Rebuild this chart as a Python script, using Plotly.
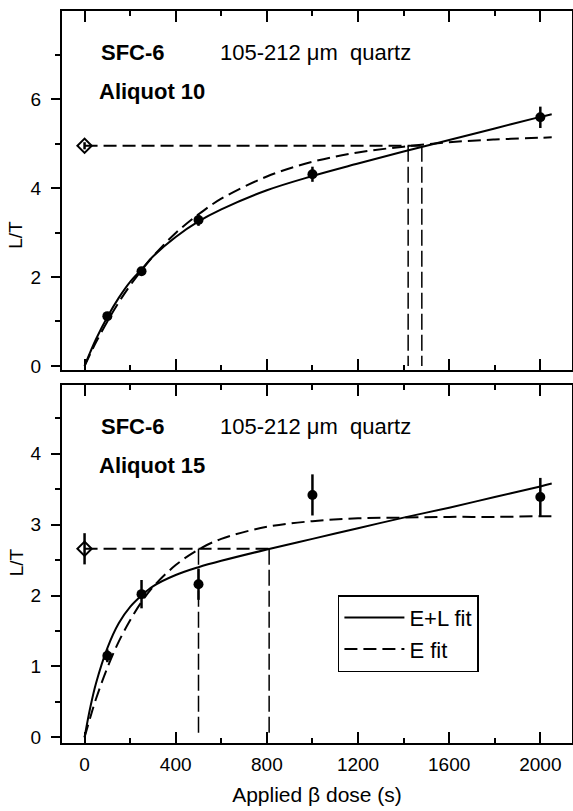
import plotly.graph_objects as go

# ---------------- data ----------------
# Aliquot 10 (top panel)
a10_dose = [100, 250, 500, 1000, 2000]
a10_lt = [1.12, 2.13, 3.28, 4.31, 5.59]
a10_err = [0.05, 0.07, 0.13, 0.17, 0.24]
a10_nat = 4.95
a10_nat_err = 0.08
a10_de = [1420, 1480]          # E fit, E+L fit equivalent doses

a10_curve_x = [0, 25, 50, 100, 150, 200, 250, 300, 400, 500, 600, 800, 1000,
               1200, 1400, 1600, 1800, 2000, 2050]
a10_el_fit = [0.0, 0.31, 0.60, 1.10, 1.53, 1.89, 2.17, 2.46, 2.90, 3.25, 3.52,
              3.95, 4.27, 4.55, 4.82, 5.08, 5.34, 5.60, 5.66]
a10_e_fit = [0.0, 0.27, 0.53, 1.00, 1.43, 1.81, 2.15, 2.46, 2.99, 3.41, 3.76,
             4.26, 4.59, 4.80, 4.93, 5.03, 5.09, 5.13, 5.14]

# Aliquot 15 (bottom panel)
a15_dose = [100, 250, 500, 1000, 2000]
a15_lt = [1.15, 2.02, 2.16, 3.42, 3.39]
a15_err = [0.09, 0.20, 0.22, 0.29, 0.27]
a15_nat = 2.66
a15_nat_err = 0.22
a15_de = [500, 810]

a15_curve_x = [0, 25, 50, 100, 150, 200, 250, 300, 400, 500, 600, 800, 1000,
               1200, 1400, 1600, 1800, 2000, 2050]
a15_el_fit = [0.0, 0.42, 0.76, 1.26, 1.61, 1.84, 2.00, 2.13, 2.29, 2.40, 2.49,
              2.65, 2.80, 2.95, 3.10, 3.24, 3.39, 3.54, 3.58]
a15_e_fit = [0.0, 0.28, 0.54, 0.98, 1.35, 1.65, 1.91, 2.12, 2.43, 2.65, 2.80,
             2.97, 3.05, 3.09, 3.10, 3.11, 3.11, 3.12, 3.12]

x_ticks = [0, 400, 800, 1200, 1600, 2000]
sample_label = "SFC-6"
grain_label = "105-212 \u03bcm  quartz"
aliquot_labels = ["Aliquot 10", "Aliquot 15"]
legend_names = ["E+L fit", "E fit"]

FONT = "Liberation Sans, Arial, sans-serif"
BLACK = "black"

fig = go.Figure()


def add_panel(xa, ya, curve_x, el_fit, e_fit, dose, lt, err, nat, nat_err, de, legend):
    fig.add_trace(go.Scatter(x=curve_x, y=el_fit, mode="lines", name=legend_names[0],
                             line=dict(color=BLACK, width=2, shape="spline"),
                             xaxis=xa, yaxis=ya, showlegend=legend))
    fig.add_trace(go.Scatter(x=curve_x, y=e_fit, mode="lines", name=legend_names[1],
                             line=dict(color=BLACK, width=2, dash="13px,6px", shape="spline"),
                             xaxis=xa, yaxis=ya, showlegend=legend))
    fig.add_trace(go.Scatter(x=[0, max(de)], y=[nat, nat], mode="lines",
                             line=dict(color=BLACK, width=2, dash="13px,6px"),
                             xaxis=xa, yaxis=ya, showlegend=False, hoverinfo="skip"))
    for d in de:
        fig.add_trace(go.Scatter(x=[d, d], y=[nat, 0], mode="lines",
                                 line=dict(color=BLACK, width=1.5, dash="16px,5px"),
                                 xaxis=xa, yaxis=ya, showlegend=False, hoverinfo="skip"))
    fig.add_trace(go.Scatter(x=dose, y=lt, mode="markers",
                             marker=dict(color=BLACK, size=10),
                             error_y=dict(type="data", array=err, color=BLACK,
                                          thickness=2.5, width=0),
                             xaxis=xa, yaxis=ya, showlegend=False))
    fig.add_trace(go.Scatter(x=[0], y=[nat], mode="markers",
                             marker=dict(symbol="diamond-open", color=BLACK, size=11,
                                         line=dict(width=2, color=BLACK)),
                             error_y=dict(type="data", array=[nat_err], color=BLACK,
                                          thickness=2.5, width=0),
                             xaxis=xa, yaxis=ya, showlegend=False))


add_panel("x", "y", a10_curve_x, a10_el_fit, a10_e_fit, a10_dose, a10_lt, a10_err,
          a10_nat, a10_nat_err, a10_de, False)
add_panel("x2", "y2", a15_curve_x, a15_el_fit, a15_e_fit, a15_dose, a15_lt, a15_err,
          a15_nat, a15_nat_err, a15_de, True)

x_range = [-99, 2139]
top_range = [-0.09, 7.98]
bot_range = [-0.08, 4.97]

xcommon = dict(range=x_range, tickvals=x_ticks, ticks="inside", ticklen=11, tickwidth=2,
               tickcolor=BLACK, showline=True, linewidth=2, linecolor=BLACK,
               mirror="ticks", showgrid=False, zeroline=False, automargin=False,
               minor=dict(dtick=200, tick0=0, ticks="inside", ticklen=5, tickwidth=2,
                          tickcolor=BLACK, showgrid=False),
               tickfont=dict(family=FONT, size=19, color=BLACK))
ycommon = dict(ticks="outside", ticklen=9, tickwidth=2, tickcolor=BLACK,
               showline=True, linewidth=2, linecolor=BLACK, mirror=True,
               showgrid=False, zeroline=False, ticklabelstandoff=6, automargin=False,
               tickfont=dict(family=FONT, size=19, color=BLACK))
yright = dict(ticks="inside", ticklen=9, tickwidth=2, tickcolor=BLACK, side="right",
              showline=False, showgrid=False, zeroline=False, showticklabels=False,
              automargin=False)

top_dom = [0.5096, 1.0]
bot_dom = [0.0, 0.489]

fig.update_layout(
    width=573, height=811,
    margin=dict(l=62, r=1, t=11, b=68),
    paper_bgcolor="white", plot_bgcolor="white",
    font=dict(family=FONT, color=BLACK),
    xaxis=dict(anchor="y", domain=[0, 1], showticklabels=False, **xcommon),
    xaxis2=dict(anchor="y2", domain=[0, 1], showticklabels=True, ticklabelstandoff=3,
                title=dict(text="Applied \u03b2 dose (s)", standoff=14,
                           font=dict(family=FONT, size=21, color=BLACK)),
                **xcommon),
    yaxis=dict(anchor="x", domain=top_dom, range=top_range, tick0=0, dtick=2,
               minor=dict(dtick=1, tick0=0, ticks="outside", ticklen=5, tickwidth=2,
                          tickcolor=BLACK, showgrid=False),
               **ycommon),
    yaxis2=dict(anchor="x2", domain=bot_dom, range=bot_range, tick0=0, dtick=1,
                minor=dict(dtick=0.5, tick0=0, ticks="outside", ticklen=5, tickwidth=2,
                           tickcolor=BLACK, showgrid=False),
                **ycommon),
    yaxis3=dict(overlaying="y", anchor="x", range=top_range, tick0=0, dtick=2,
                minor=dict(dtick=1, tick0=0, ticks="inside", ticklen=5, tickwidth=2,
                           tickcolor=BLACK, showgrid=False),
                **yright),
    yaxis4=dict(overlaying="y2", anchor="x2", range=bot_range, tick0=0, dtick=1,
                minor=dict(dtick=0.5, tick0=0, ticks="inside", ticklen=5, tickwidth=2,
                           tickcolor=BLACK, showgrid=False),
                **yright),
    legend=dict(x=0.541, y=0.202, xanchor="left", yanchor="top",
                bordercolor=BLACK, borderwidth=1.5, bgcolor="white",
                itemwidth=60, tracegroupgap=0,
                font=dict(family=FONT, size=22, color=BLACK)),
    showlegend=True,
)

for xr, yr, ys, yal, lab in [("x", "y", 7.04, 6.18, aliquot_labels[0]),
                             ("x2", "y2", 4.38, 3.83, aliquot_labels[1])]:
    fig.add_annotation(x=62, y=ys, xref=xr, yref=yr, text="<b>" + sample_label + "</b>",
                       showarrow=False, xanchor="left", yanchor="middle",
                       font=dict(family=FONT, size=22, color=BLACK))
    fig.add_annotation(x=586, y=ys, xref=xr, yref=yr, text=grain_label,
                       showarrow=False, xanchor="left", yanchor="middle",
                       font=dict(family=FONT, size=22, color=BLACK))
    fig.add_annotation(x=54, y=yal, xref=xr, yref=yr, text="<b>" + lab + "</b>",
                       showarrow=False, xanchor="left", yanchor="middle",
                       font=dict(family=FONT, size=22, color=BLACK))

for yr, yv in [("y", 2.95), ("y2", 2.47)]:
    fig.add_annotation(x=-0.09, y=yv, xref="paper", yref=yr, text="L/T", textangle=-90,
                       showarrow=False, xanchor="center", yanchor="middle",
                       font=dict(family=FONT, size=19, color=BLACK))

fig.write_html("out.html", config={"displayModeBar": False},
               post_script="document.body.style.margin='0';"
                           "document.body.style.overflow='hidden';")
